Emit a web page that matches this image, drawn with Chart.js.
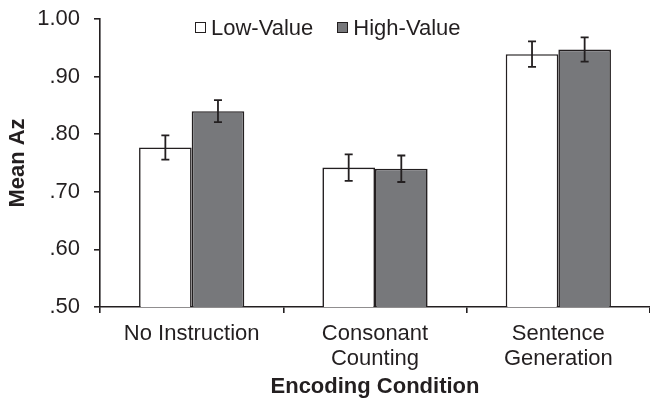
<!DOCTYPE html>
<html>
<head>
<meta charset="utf-8">
<script src="https://cdn.jsdelivr.net/npm/chart.js@4"></script>
<style>
  html, body { margin: 0; padding: 0; background: #fff; }
  #wrap { position: relative; width: 650px; height: 406px; }
  #legend { position: absolute; left: 195px; top: 15px; font: 22px "Liberation Sans", Arial, sans-serif; color: #231f20; white-space: nowrap; }
  #legend span.item { display: inline-block; margin-right: 24px; }
  #legend span.box { display: inline-block; width: 9px; height: 9px; border: 1.5px solid #231f20; margin-right: 5px; vertical-align: 2px; }
</style>
</head>
<body>
<div id="wrap">
  <canvas id="grafik" width="650" height="406"></canvas>
  <div id="legend"></div>
</div>
<script>
// data
const categories = [["No Instruction"], ["Consonant", "Counting"], ["Sentence", "Generation"]];
const seriesNames = ["Low-Value", "High-Value"];
const lowValue = [0.777, 0.742, 0.939];
const highValue = [0.840, 0.740, 0.947];
const lowErr = [0.021, 0.023, 0.022];
const highErr = [0.019, 0.023, 0.021];
const yTickLabels = [".50", ".60", ".70", ".80", ".90", "1.00"];

const ink = "#231f20";
const grey = "#77787b";
const fontFam = '"Liberation Sans", Arial, sans-serif';

// legend (html so it can sit over the plot like the original)
const colors = ["#ffffff", grey];
document.getElementById("legend").innerHTML = seriesNames.map((n, i) =>
    `<span class="item"><span class="box" style="background:${colors[i]}"></span>${n}</span>`
).join("");

/* error bars drawn from the error arrays through the y scale */
const errorBars = {
    id: "errorBars",
    afterDatasetsDraw(chart) {
        const ctx = chart.ctx;
        const y = chart.scales.y;
        ctx.save();
        ctx.strokeStyle = ink;
        ctx.lineWidth = 1.8;
        chart.data.datasets.forEach((ds, di) => {
            const meta = chart.getDatasetMeta(di);
            meta.data.forEach((bar, i) => {
                const v = ds.data[i], e = ds.errors[i];
                const top = y.getPixelForValue(v + e);
                const bot = y.getPixelForValue(v - e);
                const x = bar.x;
                ctx.beginPath();
                ctx.moveTo(x, top); ctx.lineTo(x, bot);
                ctx.moveTo(x - 4, top); ctx.lineTo(x + 4, top);
                ctx.moveTo(x - 4, bot); ctx.lineTo(x + 4, bot);
                ctx.stroke();
            });
        });
        ctx.restore();
    }
};

new Chart(document.getElementById("grafik").getContext("2d"), {
    type: "bar",
    data: {
        labels: categories,
        datasets: [
            {
                label: seriesNames[0],
                data: lowValue,
                errors: lowErr,
                backgroundColor: "#ffffff",
                borderColor: ink,
                borderWidth: 1.6,
                borderSkipped: false
            },
            {
                label: seriesNames[1],
                data: highValue,
                errors: highErr,
                backgroundColor: grey,
                borderColor: ink,
                borderWidth: 1.6,
                borderSkipped: false
            }
        ]
    },
    options: {
        responsive: false,
        animation: false,
        events: [],
        layout: { padding: { top: 19, right: 0, bottom: 0, left: 0 } },
        datasets: { bar: { categoryPercentage: 0.574, barPercentage: 1 } },
        plugins: { legend: { display: false }, tooltip: { enabled: false } },
        scales: {
            x: {
                offset: true,
                afterFit: (s) => { s.height = 99; s.paddingLeft = 0; s.paddingRight = 0; },
                border: { color: ink, width: 1.6 },
                grid: { offset: true, drawOnChartArea: false, color: ink, tickLength: 6, lineWidth: 1.6 },
                ticks: {
                    color: ink, padding: 8,
                    font: { family: fontFam, size: 22, lineHeight: 1.14 },
                    maxRotation: 0, autoSkip: false
                },
                title: {
                    display: true, text: "Encoding Condition", color: ink,
                    font: { family: fontFam, size: 22, weight: "bold", lineHeight: 1.14 },
                    padding: { top: 0, bottom: 7 }
                }
            },
            y: {
                min: 0.5, max: 1.0,
                afterFit: (s) => { s.width = 100; s.paddingTop = 0; s.paddingBottom = 0; },
                border: { color: ink, width: 1.6 },
                grid: { drawOnChartArea: false, color: ink, tickLength: 6, lineWidth: 1.6 },
                ticks: {
                    stepSize: 0.1, color: ink, padding: 14,
                    font: { family: fontFam, size: 22 },
                    callback: (v, i) => yTickLabels[i]
                },
                title: {
                    display: true, text: "Mean Az", color: ink,
                    font: { family: fontFam, size: 22, weight: "bold", lineHeight: 1.14 },
                    padding: { top: 5, bottom: 0 }
                }
            }
        }
    },
    plugins: [errorBars]
});
</script>
</body>
</html>
